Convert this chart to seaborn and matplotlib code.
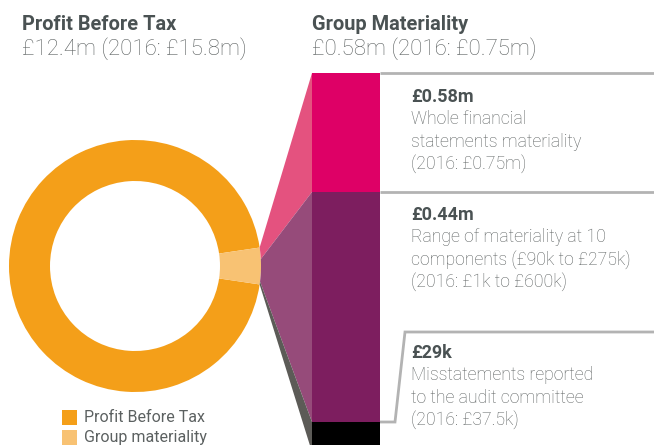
import numpy as np
import matplotlib
matplotlib.use("Agg")
import matplotlib.pyplot as plt
import seaborn as sns
import pandas as pd
from matplotlib.patches import Polygon, Rectangle

# ---------------- data ----------------
pbt_value = 12.4            # £m
pbt_prior = 15.8
group_materiality = 0.58    # £m
group_materiality_prior = 0.75
donut_labels = ["Profit Before Tax", "Group materiality"]

segment_labels = ["£0.58m", "£0.44m", "£29k"]
segment_heights = [119, 230, 30]   # relative heights of the bar segments (as drawn)
segment_desc = [
    ["Whole financial", "statements materiality", "(2016: £0.75m)"],
    ["Range of materiality at 10", "components (£90k to £275k)", "(2016: £1k to £600k)"],
    ["Misstatements reported", "to the audit committee", "(2016: £37.5k)"],
]

# ---------------- style ----------------
sns.set_theme(style="white")
plt.rcParams["font.family"] = ["Roboto", "DejaVu Sans"]

ORANGE = "#F49F19"
LIGHT = "#F8C273"
SEG_COLORS = ["#DE0066", "#7D1E5F", "#000000"]
FUNNEL_COLORS = ["#E4527F", "#964B7A", "#5C5B57"]
LINE = "#B3B3B3"
DARK = "#4A5253"
BODY = "#5C6161"

W, H = 654, 445
fig = plt.figure(figsize=(W / 100, H / 100), dpi=100)
ax = fig.add_axes([0, 0, 1, 1])

# ---------------- donut ----------------
cx, cy, R, ring = 135, 266, 126, 41
donut_vals = [pbt_value - group_materiality, group_materiality]
half = 180 * group_materiality / pbt_value
ax.pie(donut_vals, colors=[ORANGE, LIGHT], startangle=half, counterclock=True,
       radius=R, center=(cx, cy),
       wedgeprops=dict(width=ring, linewidth=0, edgecolor="none"))
ax.set_xlim(0, W)
ax.set_ylim(H, 0)
ax.set_aspect("equal")
ax.axis("off")

# ---------------- stacked bar (seaborn) ----------------
bar_top, bar_left, bar_w = 73, 312, 68
bar_ax = fig.add_axes([bar_left / W, 0, bar_w / W, (H - bar_top) / H])
cum = np.cumsum(segment_heights)
for i in reversed(range(len(segment_heights))):
    df = pd.DataFrame({"g": ["bar"], "v": [cum[i]]})
    sns.barplot(data=df, x="g", y="v", color=SEG_COLORS[i], saturation=1,
                width=1, linewidth=0, ax=bar_ax)
bar_ax.set_xlim(-0.5, 0.5)
bar_ax.set_ylim(H - bar_top, 0)
bar_ax.axis("off")

# ---------------- funnels ----------------
bounds = np.concatenate([[0], cum])
fracs = bounds / bounds[-1]
theta = np.deg2rad(-half + 2 * half * fracs)
bar_y = bar_top + bounds
for i in range(len(segment_heights)):
    t = np.linspace(theta[i], theta[i + 1], 8)
    left = list(zip(cx + R * np.cos(t), cy + R * np.sin(t)))
    pts = [(bar_left, bar_y[i]), (bar_left, bar_y[i + 1])] + left[::-1]
    ax.add_patch(Polygon(pts, closed=True, facecolor=FUNNEL_COLORS[i],
                         edgecolor="none", zorder=1))

# ---------------- connector lines ----------------
bx = bar_left + bar_w
ax.plot([bx, W], [bar_y[0], bar_y[0]], color=LINE, lw=2, solid_capstyle="butt")
ax.plot([bx, W], [bar_y[1], bar_y[1]], color=LINE, lw=2, solid_capstyle="butt")
ax.plot([bx, 395, 405, W], [bar_y[2], bar_y[2], 332, 332], color=LINE, lw=2,
        solid_joinstyle="miter", solid_capstyle="butt")

# ---------------- titles ----------------
ax.text(22, 24, "Profit Before Tax", fontsize=14.4, fontweight="bold",
        color=DARK, va="center", ha="left")
ax.text(22, 49, f"£{pbt_value}m (2016: £{pbt_prior}m)", fontsize=16,
        fontweight="light", color=BODY, va="center", ha="left")
ax.text(312, 24, "Group Materiality", fontsize=14.4, fontweight="bold",
        color=DARK, va="center", ha="left")
ax.text(312, 49, f"£{group_materiality}m (2016: £{group_materiality_prior}m)",
        fontsize=16, fontweight="light", color=BODY, va="center", ha="left")

# ---------------- segment descriptions ----------------
text_tops = [97, 215, 353]
for lab, desc, y0 in zip(segment_labels, segment_desc, text_tops):
    ax.text(411, y0, lab, fontsize=13, fontweight="bold", color=DARK,
            va="center", ha="left")
    for k, line in enumerate(desc):
        ax.text(411, y0 + 22.3 * (k + 1), line, fontsize=12.7, fontweight="light",
                color=BODY, va="center", ha="left")

# ---------------- legend ----------------
for k, (lab, col) in enumerate(zip(donut_labels, [ORANGE, LIGHT])):
    y = 410 + 20 * k
    ax.add_patch(Rectangle((62, y), 15, 15, facecolor=col, edgecolor="none"))
    ax.text(84, y + 7.5, lab, fontsize=11.5, color=BODY, va="center", ha="left")

fig.savefig("out.png", dpi=100)
